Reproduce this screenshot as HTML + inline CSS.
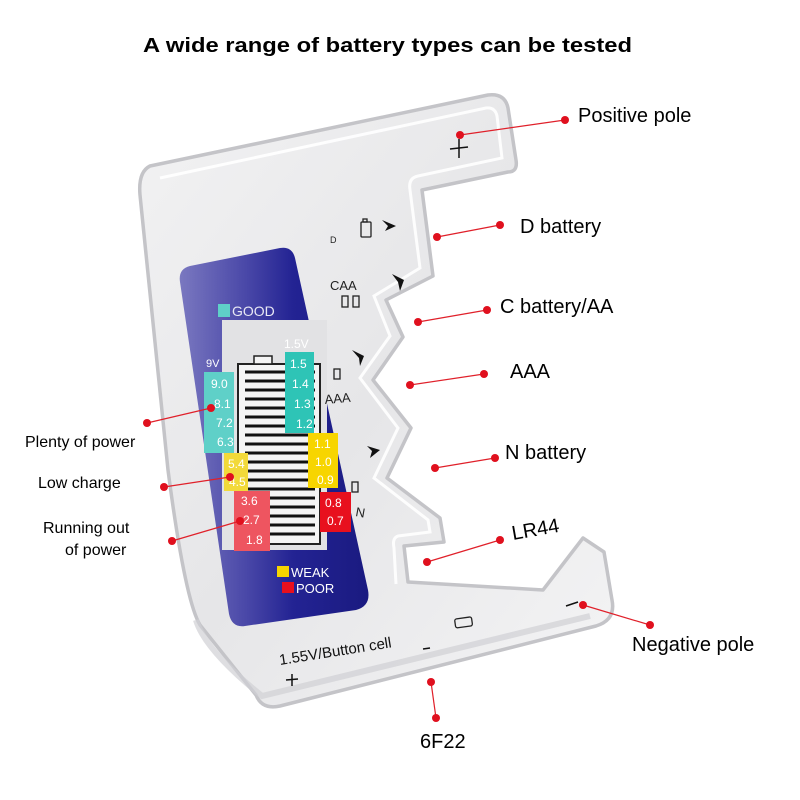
<!DOCTYPE html>
<html><head><meta charset="utf-8"><style>
html,body{margin:0;padding:0;background:#fff;}
svg{display:block;font-family:"Liberation Sans",sans-serif;}
</style></head><body>
<svg width="800" height="800" viewBox="0 0 800 800" xmlns="http://www.w3.org/2000/svg">
<defs>
<linearGradient id="body" x1="0" y1="0" x2="1" y2="1">
<stop offset="0" stop-color="#f2f2f3"/><stop offset="0.5" stop-color="#e6e6e8"/><stop offset="1" stop-color="#f4f4f5"/>
</linearGradient>
<linearGradient id="panel" x1="0" y1="0" x2="1" y2="0">
<stop offset="0" stop-color="#7a78c0"/><stop offset="0.35" stop-color="#4a48a8"/><stop offset="0.6" stop-color="#232393"/><stop offset="1" stop-color="#1a1a80"/>
</linearGradient>
</defs>
<text x="143" y="52" font-size="20" font-weight="bold" textLength="489" lengthAdjust="spacingAndGlyphs" fill="#000">A wide range of battery types can be tested</text>

<path d="M150,166 L488,95 Q505,93 508,108 L516,160 Q518,172 508,172 L422,190 L433,276 L386,300 L403,337 L373,380 L411,428 L387,478 L440,518 L444,542 L404,546 L408,582 L543,590 L583,538 L604,552 L612,600 Q616,620 596,626 L280,706 Q262,710 256,695 L200,625 Q185,600 168,470 L140,195 Q138,172 150,166 Z" fill="url(#body)" stroke="#c4c4c8" stroke-width="3.5" stroke-linejoin="round"/>
<path d="M160,178 L486,108 Q495,107 497,116 L502,158 L418,176 Q408,178 410,190 L420,268 L374,296 L390,336 L360,378 L398,428 L374,478 L428,520 L430,532 L398,536 Q392,538 394,548 L396,584" fill="none" stroke="#ffffff" stroke-width="3" opacity="0.9"/>
<path d="M196,620 Q205,650 262,696 L590,616" fill="none" stroke="#d0d0d4" stroke-width="6" opacity="0.7"/>

<path d="M190,266 L280,248 Q292,246 295,258 L368,590 Q371,606 356,610 L245,626 Q232,628 229,614 L180,282 Q178,269 190,266 Z" fill="url(#panel)"/>
<rect x="218" y="304" width="12" height="13" fill="#5fd0c8"/>
<text x="232" y="316" font-size="14" fill="#e8e8f4">GOOD</text>
<rect x="222" y="320" width="105" height="230" fill="#e2e2e4"/>
<rect x="238" y="364" width="82" height="180" fill="#f4f4f4" stroke="#222" stroke-width="2"/>
<rect x="254" y="356" width="18" height="8" fill="#f4f4f4" stroke="#222" stroke-width="1.5"/>
<g stroke="#111" stroke-width="3">
<line x1="245" y1="372" x2="315" y2="372"/><line x1="245" y1="381" x2="315" y2="381"/><line x1="245" y1="390" x2="315" y2="390"/><line x1="245" y1="399" x2="315" y2="399"/><line x1="245" y1="408" x2="315" y2="408"/><line x1="245" y1="417" x2="315" y2="417"/><line x1="245" y1="426" x2="315" y2="426"/><line x1="245" y1="435" x2="315" y2="435"/><line x1="245" y1="444" x2="315" y2="444"/><line x1="245" y1="453" x2="315" y2="453"/><line x1="245" y1="462" x2="315" y2="462"/><line x1="245" y1="471" x2="315" y2="471"/><line x1="245" y1="480" x2="315" y2="480"/><line x1="245" y1="489" x2="315" y2="489"/><line x1="245" y1="498" x2="315" y2="498"/><line x1="245" y1="507" x2="315" y2="507"/><line x1="245" y1="516" x2="315" y2="516"/><line x1="245" y1="525" x2="315" y2="525"/><line x1="245" y1="534" x2="315" y2="534"/>
</g>
<text x="206" y="367" font-size="11" fill="#fff">9V</text>
<rect x="204" y="372" width="30" height="81" fill="#5fd0c8"/>
<rect x="224" y="453" width="24" height="38" fill="#f2d93a"/>
<rect x="234" y="491" width="36" height="60" fill="#ee5560"/>
<g font-size="12" fill="#fff">
<text x="211" y="388">9.0</text><text x="214" y="408">8.1</text><text x="216" y="427">7.2</text><text x="217" y="446">6.3</text>
<text x="228" y="468">5.4</text><text x="229" y="486">4.5</text>
<text x="241" y="505">3.6</text><text x="243" y="524">2.7</text><text x="246" y="544">1.8</text>
</g>
<text x="284" y="348" font-size="12" fill="#fff">1.5V</text>
<rect x="285" y="352" width="29" height="81" fill="#2ec4b6"/>
<rect x="308" y="433" width="30" height="55" fill="#f7d500"/>
<rect x="320" y="492" width="31" height="40" fill="#e8101e"/>
<g font-size="12" fill="#fff">
<text x="290" y="368">1.5</text><text x="292" y="388">1.4</text><text x="294" y="408">1.3</text><text x="296" y="428">1.2</text>
<text x="314" y="448">1.1</text><text x="315" y="466">1.0</text><text x="317" y="484">0.9</text>
<text x="325" y="507">0.8</text><text x="327" y="525">0.7</text>
</g>
<rect x="277" y="566" width="12" height="11" fill="#f7d500"/>
<text x="291" y="577" font-size="13" fill="#fff">WEAK</text>
<rect x="282" y="582" width="12" height="11" fill="#e8101e"/>
<text x="296" y="593" font-size="13" fill="#fff">POOR</text>

<g fill="#222" font-size="13">
<text x="330" y="243" font-size="9">D</text>
<text x="330" y="290">CAA</text>
<text x="325" y="404" transform="rotate(-5 325 404)">AAA</text>
<text x="355" y="516" transform="rotate(10 355 516)">N</text>
</g>
<g fill="none" stroke="#222" stroke-width="1.3">
<rect x="361" y="222" width="10" height="15" rx="1"/><rect x="363" y="219" width="4" height="3"/>
<rect x="342" y="296" width="6" height="11"/><rect x="353" y="296" width="6" height="11"/>
<rect x="334" y="369" width="6" height="10"/>
<rect x="352" y="482" width="6" height="10"/>
<rect x="455" y="618" width="17" height="9" rx="2" transform="rotate(-8 463 622)"/>
</g>
<g fill="#111">
<path d="M382,220 L396,226 L385,231 L388,226 Z"/>
<path d="M392,274 L404,280 L400,291 L398,282 Z"/>
<path d="M352,350 L364,356 L360,366 L359,358 Z"/>
<path d="M367,446 L380,450 L370,458 L372,451 Z"/>
</g>
<g stroke="#111" stroke-width="1.5">
<line x1="450" y1="149" x2="468" y2="147"/><line x1="459" y1="139" x2="459" y2="158"/>
<line x1="286" y1="680" x2="298" y2="679"/><line x1="292" y1="674" x2="292" y2="686"/>
<line x1="423" y1="649" x2="430" y2="648"/>
<line x1="566" y1="606" x2="578" y2="602"/>
</g>
<text x="280" y="665" font-size="15" fill="#111" transform="rotate(-9 280 665)">1.55V/Button cell</text>

<g stroke="#e0202a" stroke-width="1.2" fill="none">
<line x1="460" y1="135" x2="565" y2="120"/>
<line x1="437" y1="237" x2="500" y2="225"/>
<line x1="418" y1="322" x2="487" y2="310"/>
<line x1="410" y1="385" x2="484" y2="374"/>
<line x1="435" y1="468" x2="495" y2="458"/>
<line x1="427" y1="562" x2="500" y2="540"/>
<line x1="583" y1="605" x2="650" y2="625"/>
<line x1="431" y1="682" x2="436" y2="718"/>
<line x1="147" y1="423" x2="211" y2="408"/>
<line x1="164" y1="487" x2="230" y2="477"/>
<line x1="172" y1="541" x2="240" y2="521"/>
</g>
<g fill="#e0101e">
<circle cx="460" cy="135" r="4"/><circle cx="565" cy="120" r="4"/>
<circle cx="437" cy="237" r="4"/><circle cx="500" cy="225" r="4"/>
<circle cx="418" cy="322" r="4"/><circle cx="487" cy="310" r="4"/>
<circle cx="410" cy="385" r="4"/><circle cx="484" cy="374" r="4"/>
<circle cx="435" cy="468" r="4"/><circle cx="495" cy="458" r="4"/>
<circle cx="427" cy="562" r="4"/><circle cx="500" cy="540" r="4"/>
<circle cx="583" cy="605" r="4"/><circle cx="650" cy="625" r="4"/>
<circle cx="431" cy="682" r="4"/><circle cx="436" cy="718" r="4"/>
<circle cx="147" cy="423" r="4"/><circle cx="211" cy="408" r="4"/>
<circle cx="164" cy="487" r="4"/><circle cx="230" cy="477" r="4"/>
<circle cx="172" cy="541" r="4"/><circle cx="240" cy="521" r="4"/>
</g>
<g fill="#000" font-size="20">
<text x="578" y="122">Positive pole</text>
<text x="520" y="233">D battery</text>
<text x="500" y="313">C battery/AA</text>
<text x="510" y="378">AAA</text>
<text x="505" y="459">N battery</text>
<text x="513" y="540" transform="rotate(-10 513 540)">LR44</text>
<text x="632" y="651">Negative pole</text>
<text x="420" y="748">6F22</text>
</g>
<g fill="#000" font-size="16">
<text x="25" y="447">Plenty of power</text>
<text x="38" y="488">Low charge</text>
<text x="43" y="533">Running out</text>
<text x="65" y="555">of power</text>
</g>
</svg>
</body></html>
